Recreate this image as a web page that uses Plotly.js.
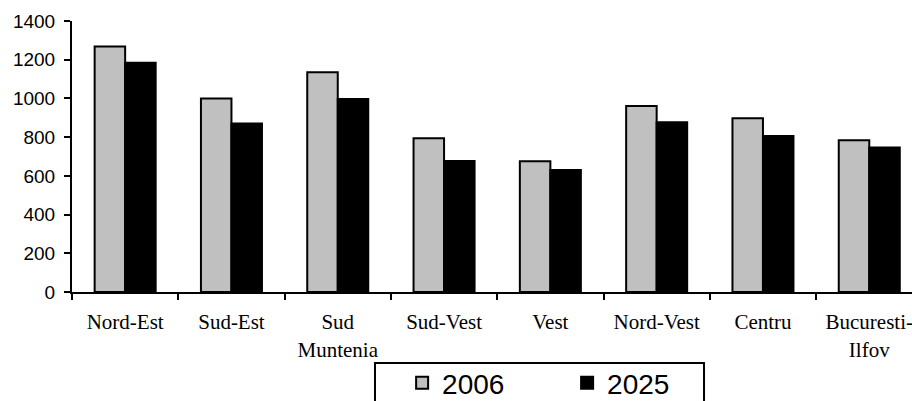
<!DOCTYPE html>
<html>
<head>
<meta charset="utf-8">
<script src="https://cdn.plot.ly/plotly-3.0.1.min.js"></script>
<style>html,body{margin:0;padding:0;background:#fff;}#chart{width:912px;height:401px;}</style>
</head>
<body>
<div id="chart"></div>
<script>
const categories = ['Nord-Est','Sud-Est','Sud<br>Muntenia','Sud-Vest','Vest','Nord-Vest','Centru','Bucuresti-<br>Ilfov'];
const values2006 = [1268, 1000, 1135, 794, 675, 961, 897, 784];
const values2025 = [1184, 870, 997, 677, 630, 877, 806, 746];
const seriesNames = ['2006', '2025'];
const yTicks = [0, 200, 400, 600, 800, 1000, 1200, 1400];

const traces = [
  {type:'bar', name: seriesNames[0], x: categories, y: values2006,
   marker:{color:'#C0C0C0', line:{color:'#000', width:2}}},
  {type:'bar', name: seriesNames[1], x: categories, y: values2025,
   marker:{color:'#000000', line:{color:'#000', width:2}}}
];

const layout = {
  width: 912, height: 401,
  margin: {l:72, r:0, t:21, b:109, autoexpand:false},
  paper_bgcolor:'#fff', plot_bgcolor:'#fff',
  barmode:'group', bargap:0.426, bargroupgap:0,
  showlegend:true,
  legend:{orientation:'h', x:0.393, xanchor:'left', y:-0.244, yanchor:'top',
          font:{family:'Arial, Liberation Sans', size:28, color:'#000'},
          bgcolor:'rgba(0,0,0,0)', borderwidth:0, entrywidth:120, traceorder:'normal'},
  xaxis:{range:[-0.5, 7.402], showline:true, linecolor:'#000', linewidth:2,
         ticks:'outside', tickson:'boundaries', ticklen:6, tickwidth:2, tickcolor:'#000',
         ticklabelstandoff:10,
         showgrid:false, zeroline:false, fixedrange:true,
         tickfont:{family:'Times New Roman, Liberation Serif', size:21, color:'#000'}},
  yaxis:{range:[0,1400], tickvals: yTicks, showline:true, linecolor:'#000', linewidth:2,
         ticks:'outside', ticklen:6, tickwidth:2, tickcolor:'#000',
         ticklabelstandoff:5,
         showgrid:false, zeroline:false, fixedrange:true,
         tickfont:{family:'Arial, Liberation Sans', size:19, color:'#000'}},
  shapes:[{type:'rect', xref:'paper', yref:'paper', x0:0.3607, x1:0.7524, y0:-0.5, y1:-0.262,
           line:{color:'#000', width:2}, fillcolor:'rgba(0,0,0,0)'}]
};

Plotly.newPlot('chart', traces, layout, {displayModeBar:false, staticPlot:true});
</script>
</body>
</html>
